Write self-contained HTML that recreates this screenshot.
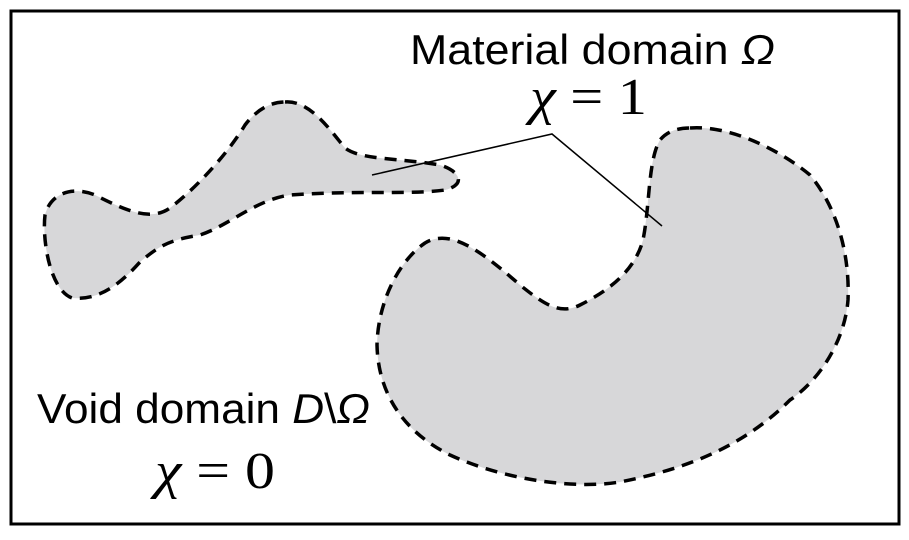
<!DOCTYPE html>
<html><head><style>html,body{margin:0;padding:0;background:#fff;}
.s{font-family:"Liberation Sans",Arial,sans-serif;}
.r{font-family:"Liberation Serif","Times New Roman",serif;}</style></head>
<body>
<svg width="909" height="535" viewBox="0 0 909 535" xmlns="http://www.w3.org/2000/svg">
<rect x="11" y="11" width="888" height="513" fill="#fff" stroke="#000" stroke-width="3"/>
<path d="M285,102 C310,100 330,130 345,148 C360,160 400,158 440,165 C462,172 465,185 445,190 C410,195 360,190 290,195 C255,200 230,225 200,235 C170,240 160,245 140,262 C115,290 95,300 72,298 C50,290 42,240 45,215 C50,195 70,185 95,195 C125,210 150,222 170,208 C200,185 230,150 245,125 C258,108 272,102 285,102 Z" fill="#d7d7d9" stroke="#000" stroke-width="3.5" stroke-dasharray="12,8"/>
<path d="M690,128 C730,125 780,150 810,175 C835,205 850,250 848,300 C845,340 820,380 790,400 C740,450 680,470 620,482 C570,490 500,478 450,455 C400,430 378,390 377,345 C378,300 400,260 425,243 C450,228 480,250 520,285 C545,305 560,315 580,305 C610,290 635,270 643,240 C650,205 648,160 660,140 C668,130 680,128 690,128 Z" fill="#d7d7d9" stroke="#000" stroke-width="3.5" stroke-dasharray="12,8"/>
<polyline points="372,175 552,134 662,226" fill="none" stroke="#000" stroke-width="1.5"/>
<text class="s" x="410" y="64" font-size="42" textLength="365" lengthAdjust="spacingAndGlyphs">Material domain <tspan font-style="italic">Ω</tspan></text>
<text class="r" x="530" y="114" font-size="52" textLength="117" lengthAdjust="spacingAndGlyphs"><tspan font-style="italic">χ</tspan> = 1</text>
<text class="s" x="37" y="423" font-size="42" textLength="333" lengthAdjust="spacingAndGlyphs">Void domain <tspan font-style="italic">D</tspan>\<tspan font-style="italic">Ω</tspan></text>
<text class="r" x="155" y="488" font-size="52" textLength="120" lengthAdjust="spacingAndGlyphs"><tspan font-style="italic">χ</tspan> = 0</text>
</svg>
</body></html>
